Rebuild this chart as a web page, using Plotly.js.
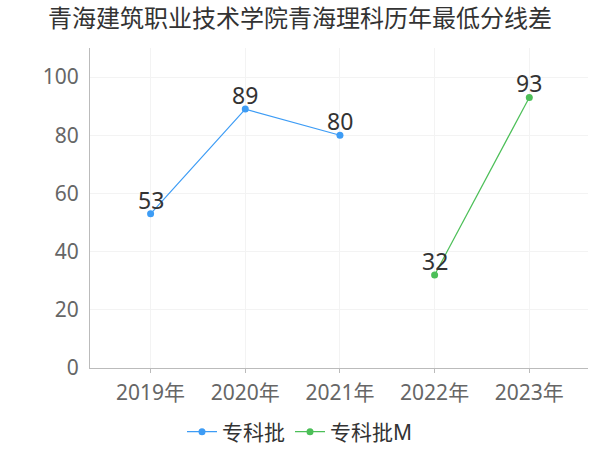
<!DOCTYPE html>
<html><head><meta charset="utf-8">
<script src="https://cdn.plot.ly/plotly-3.0.1.min.js"></script>
<style>html,body{margin:0;padding:0;background:#fff}#c{width:600px;height:450px}</style>
</head><body><div id="c"></div>
<script>
var years = ["2019年","2020年","2021年","2022年","2023年"];
var s1Name = "专科批";
var s1 = [53, 89, 80, null, null];
var s2Name = "专科批M";
var s2 = [null, null, null, 32, 93];
var titleText = "青海建筑职业技术学院青海理科历年最低分线差";
var F = '"Noto Sans", "Noto Sans CJK SC", sans-serif';
var anns = [];
[s1, s2].forEach(function(s){
  s.forEach(function(v, i){
    if (v != null) anns.push({x: years[i], y: v, xref: "x", yref: "y", text: String(v),
      showarrow: false, yanchor: "bottom", yshift: -4, font: {size: 23, color: "#333", family: F}});
  });
});
var traces = [
 {x: years, y: s1, name: s1Name, type: "scatter", mode: "lines+markers",
  line: {color: "#3d9cf5", width: 1.2}, marker: {color: "#3d9cf5", size: 7}, connectgaps: false},
 {x: years, y: s2, name: s2Name, type: "scatter", mode: "lines+markers",
  line: {color: "#4cbf58", width: 1.2}, marker: {color: "#4cbf58", size: 7}, connectgaps: false}
];
var layout = {
 width: 600, height: 450,
 margin: {l: 90, r: 12, t: 48, b: 82},
 paper_bgcolor: "#fff", plot_bgcolor: "#fff",
 font: {family: F, color: "#666"},
 title: {text: titleText, x: 0.5, xanchor: "center", xref: "container", yref: "container", y: 0.958, yanchor: "middle",
  font: {size: 24, color: "#333", family: F}},
 annotations: anns,
 xaxis: {type: "category", range: [-0.64, 4.62], showgrid: true, gridcolor: "#f3f3f3",
  showline: true, linecolor: "#bbb", ticks: "outside", tickcolor: "#bbb", ticklen: 4,
  tickfont: {size: 21, color: "#666", family: F}, ticklabelstandoff: 2, zeroline: false, automargin: false},
 yaxis: {range: [0, 110], dtick: 20, showgrid: true, gridcolor: "#f3f3f3",
  showline: true, linecolor: "#bbb", ticks: "", tickfont: {size: 21, color: "#666", family: F},
  ticklabelstandoff: 6, zeroline: false, automargin: false},
 legend: {orientation: "h", x: 0.5, xanchor: "center", xref: "container", yref: "container", y: 0.04, yanchor: "middle",
  font: {size: 21, color: "#333", family: F}, itemwidth: 30, tracegroupgap: 0},
 showlegend: true
};
Plotly.newPlot("c", traces, layout, {displayModeBar: false, staticPlot: true});
</script></body></html>
